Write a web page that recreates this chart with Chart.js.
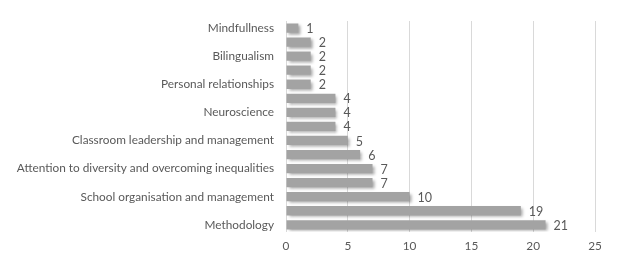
<!DOCTYPE html>
<html>
<head>
<meta charset="utf-8">
<script src="https://cdn.jsdelivr.net/npm/chart.js@4"></script>
<style>
  html, body { margin: 0; padding: 0; background: #fff; }
  #wrap { width: 618px; height: 270px; }
</style>
</head>
<body>
<div id="wrap"><canvas id="chart"></canvas></div>
<script>
// Topics, top to bottom. Only every other label is printed on the axis.
const topics = [
  'Mindfullness',
  'Evaluation',
  'Bilingualism',
  'Reading and literacy',
  'Personal relationships',
  'Emotional education',
  'Neuroscience',
  'Coexistence',
  'Classroom leadership and management',
  'Inclusive education',
  'Attention to diversity and overcoming inequalities',
  'Digital competence',
  'School organisation and management',
  'Innovation',
  'Methodology',
];
const counts = [1, 2, 2, 2, 2, 4, 4, 4, 5, 6, 7, 7, 10, 19, 21];
const xTicks = [0, 5, 10, 15, 20, 25];

const TEXT = '#595959';
const FONT = { family: 'Lato, "Open Sans", sans-serif', size: 11.8 };

// Number printed just past the end of each bar.
const valueLabels = {
  id: 'valueLabels',
  afterDatasetsDraw(chart) {
    const { ctx } = chart;
    const meta = chart.getDatasetMeta(0);
    ctx.save();
    ctx.fillStyle = TEXT;
    ctx.font = `12.5px ${FONT.family}`;
    ctx.textBaseline = 'middle';
    meta.data.forEach((bar, i) => {
      ctx.fillText(String(counts[i]), bar.x + 8, bar.y + 1);
    });
    ctx.restore();
  },
};

// Soft drop shadow under the bars, like the office chart style.
const barShadow = {
  id: 'barShadow',
  beforeDatasetDraw(chart) {
    const { ctx } = chart;
    ctx.save();
    ctx.shadowColor = 'rgba(0,0,0,0.35)';
    ctx.shadowBlur = 3;
    ctx.shadowOffsetX = 2;
    ctx.shadowOffsetY = 2;
  },
  afterDatasetDraw(chart) {
    chart.ctx.restore();
  },
};

new Chart(document.getElementById('chart'), {
  type: 'bar',
  data: {
    labels: topics,
    datasets: [{
      data: counts,
      backgroundColor: '#a3a3a3',
      borderWidth: 0,
      categoryPercentage: 1,
      barPercentage: 0.66,
    }],
  },
  plugins: [barShadow, valueLabels],
  options: {
    indexAxis: 'y',
    responsive: true,
    maintainAspectRatio: false,
    animation: false,
    layout: { padding: { top: 21, right: 23, bottom: 10, left: 0 } },
    scales: {
      x: {
        min: 0,
        max: 25,
        afterBuildTicks: (scale) => { scale.ticks = xTicks.map((v) => ({ value: v })); },
        ticks: { color: TEXT, font: FONT, padding: 7 },
        grid: { color: '#d9d9d9', drawTicks: false },
        border: { display: false },
      },
      y: {
        afterFit: (scale) => { scale.width = 286; },
        ticks: {
          color: TEXT,
          font: FONT,
          autoSkip: false,
          padding: 4,
          callback: (v, i) => (i % 2 === 0 ? topics[i] : ''),
        },
        grid: { display: false },
        border: { display: false },
      },
    },
    plugins: {
      legend: { display: false },
      tooltip: { enabled: false },
    },
  },
});
</script>
</body>
</html>
